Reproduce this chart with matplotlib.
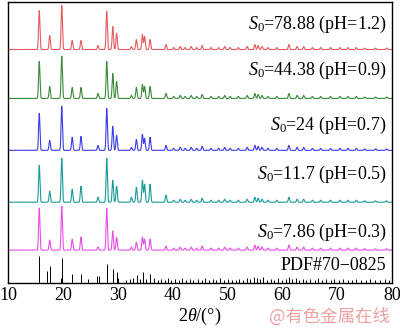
import numpy as np
from matplotlib import pyplot as plt

plt.rcParams['mathtext.fontset'] = 'custom'
plt.rcParams['mathtext.rm'] = 'Liberation Serif'
plt.rcParams['mathtext.it'] = 'Liberation Serif:italic'

# main diffraction peaks (2theta, deg) and heights for each sample
major_pos = [15.7, 17.6, 19.8, 21.7, 23.3, 26.4, 28.0, 29.1, 29.8, 32.5, 33.4, 34.5, 34.9, 35.9, 38.8]
h_red     = [39, 14, 44, 9, 9, 4, 38, 23, 16, 3, 10, 15, 13, 10, 5]
h_green   = [37, 12, 42, 11, 11, 5, 37, 25, 17, 3, 11, 14, 12, 12, 5]
h_blue    = [37, 10, 44, 13, 14, 5, 42, 24, 15, 3, 11, 16, 12, 13, 5]
h_teal    = [37, 11, 44, 13, 16, 5, 44, 22, 16, 5, 15, 22, 18, 18, 7]
h_magenta = [42, 10, 44, 11, 13, 3, 42, 19, 13, 3, 8, 13, 11, 11, 4]

# weak peaks above 40 deg
minor_pos = [40.2, 41.4, 42.3, 43.4, 44.4, 45.4, 47.0, 48.4, 49.5, 50.5, 52.0, 53.6, 55.0, 55.6,
             56.3, 57.4, 59.0, 61.2, 62.7, 63.9, 65.5, 67.0, 68.8, 70.5, 72.0, 73.5, 75.0, 77.0, 79.0]
minor_h = [2, 3, 2, 3, 2, 4, 2, 2, 3, 2, 2, 3, 5, 4,
           3, 2, 2, 5, 3, 3, 2, 2, 2, 2, 2, 2, 1.5, 1.5, 1.5]

offsets = [234, 185, 133, 81, 33]
colors = ['#e8595e', '#3a8a3a', '#3c3ce6', '#1a9a9a', '#e64ee6']
labels = [r'$S_0$=78.88 (pH=1.2)', r'$S_0$=44.38 (pH=0.9)', r'$S_0$=24 (pH=0.7)',
          r'$S_0$=11.7 (pH=0.5)', r'$S_0$=7.86 (pH=0.3)']
label_y = [259, 213, 158, 109, 51]

# PDF#70-0825 reference sticks
pdf_pos = [15.7, 17.2, 17.6, 19.6, 19.8, 21.7, 23.3, 24.6, 26.3, 26.6, 28.0, 29.1, 29.8, 30.1,
           31.5, 32.3, 32.8, 33.5, 34.0, 34.6, 35.2, 35.9,
           36.6, 37.3, 37.9, 38.6, 39.1, 39.8, 40.5, 41.2, 41.8, 42.5, 43.1, 43.7, 44.6, 45.3,
           45.9, 46.6, 47.4, 48.0, 48.7, 49.3, 50.1, 50.8, 51.5, 52.2, 52.9, 53.6, 54.2, 54.8,
           55.3, 55.9, 56.5, 57.2, 57.9, 58.5, 59.2, 59.9, 60.6, 61.2, 61.8, 62.5, 63.1, 63.8,
           64.4, 65.1, 65.9, 66.6, 67.3, 68.0, 68.8, 69.5, 70.3, 71.1, 71.9, 72.7, 73.5, 74.3,
           75.2, 76.0, 76.9, 77.8, 78.7, 79.5]
pdf_h = [27, 12, 17, 5, 25, 9, 9, 4, 7, 7, 19, 14, 11, 5,
         3, 4, 5, 8, 4, 11, 4, 9,
         5, 3, 4, 3, 5, 3, 4, 3, 5, 3, 4, 3, 4, 3,
         5, 3, 4, 3, 5, 3, 4, 3, 3, 4, 3, 5, 4, 6,
         5, 4, 6, 3, 4, 3, 5, 3, 4, 6, 4, 5, 3, 4,
         3, 4, 3, 5, 3, 4, 3, 4, 3, 4, 3, 3, 4, 3,
         3, 4, 3, 3, 4, 3]

x = np.arange(10, 80.01, 0.02)


def pattern(heights):
    y = np.zeros_like(x)
    for p, h in zip(major_pos + minor_pos, list(heights) + minor_h):
        y += h * np.exp(-0.5 * ((x - p) / 0.12) ** 2)
    return y


fig = plt.figure(figsize=(4, 3.28), dpi=100)
ax = fig.add_axes([0.02, 0.137, 0.96, 0.858])

for hs, off, c, lab, ly in zip([h_red, h_green, h_blue, h_teal, h_magenta], offsets, colors, labels, label_y):
    ax.plot(x, pattern(hs) + off, color=c, linewidth=0.8)
    ax.text(79, ly, lab, ha='right', va='center', fontsize=13, family='Liberation Serif')

ax.vlines(pdf_pos, 0, pdf_h, color='black', linewidth=0.7)
ax.text(79, 18, 'PDF#70\u22120825', ha='right', va='center', fontsize=13, family='Liberation Serif')

ax.set_xlim(10, 80)
ax.set_ylim(0, 282)
ax.set_yticks([])
ax.set_xticks(range(10, 81, 10))
ax.tick_params(axis='x', length=0, pad=3, labelsize=13)
for t in ax.get_xticklabels():
    t.set_family('Liberation Serif')
ax.set_xlabel(r'2$\theta$/(°)', fontsize=13, family='Liberation Serif', labelpad=1)
for s in ax.spines.values():
    s.set_linewidth(1.0)

fig.text(0.975, 0.036, '@有色金属在线', ha='right', va='center', fontsize=12.5,
         color='#f0a0a0', family=['Noto Sans CJK SC', 'DejaVu Sans'])

fig.savefig('out.png', dpi=100)
